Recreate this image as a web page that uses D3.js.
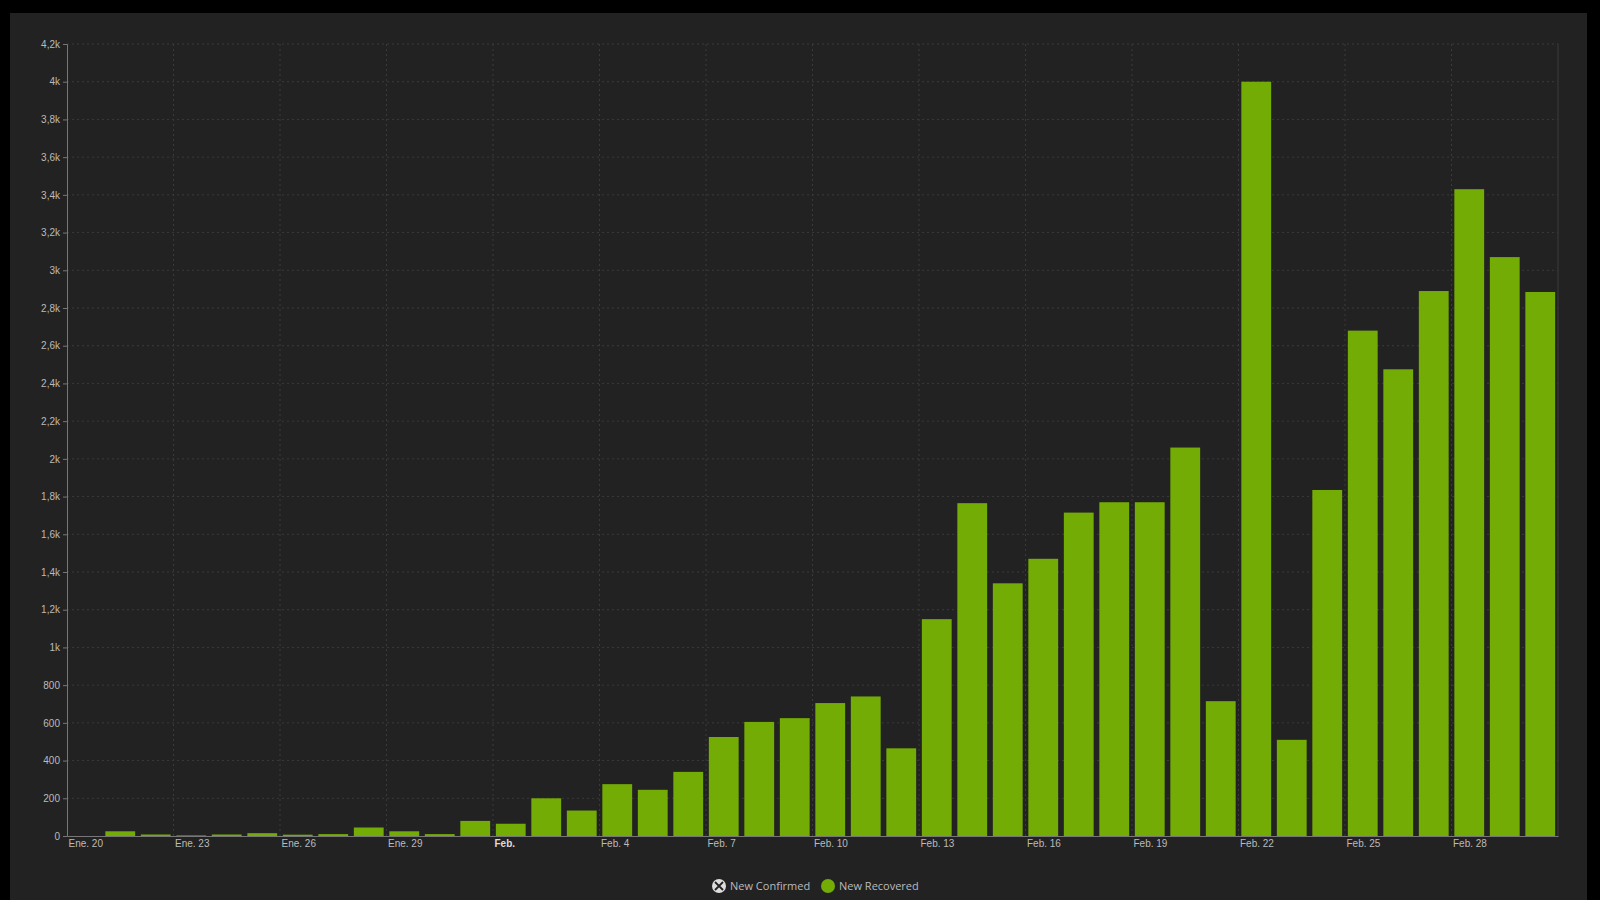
<!DOCTYPE html>
<html><head><meta charset="utf-8">
<script src="https://cdn.jsdelivr.net/npm/d3@7"></script>
<style>body{margin:0;background:#000;}svg{display:block;font-family:"Open Sans",sans-serif;}</style>
</head><body><svg id="c" width="1600" height="900"></svg>
<script>
const dates = ["2020-01-21","2020-01-22","2020-01-23","2020-01-24","2020-01-25","2020-01-26","2020-01-27","2020-01-28","2020-01-29","2020-01-30","2020-01-31","2020-02-01","2020-02-02","2020-02-03","2020-02-04","2020-02-05","2020-02-06","2020-02-07","2020-02-08","2020-02-09","2020-02-10","2020-02-11","2020-02-12","2020-02-13","2020-02-14","2020-02-15","2020-02-16","2020-02-17","2020-02-18","2020-02-19","2020-02-20","2020-02-21","2020-02-22","2020-02-23","2020-02-24","2020-02-25","2020-02-26","2020-02-27","2020-02-28","2020-02-29","2020-03-01"];
const newRecovered = [25,8,3,8,15,7,10,45,25,10,80,65,200,135,275,245,340,525,605,625,705,740,465,1150,1765,1340,1470,1715,1770,1770,2060,715,4000,510,1835,2680,2475,2890,3430,3070,2885];
const yTicks = [0,200,400,600,800,1000,1200,1400,1600,1800,2000,2200,2400,2600,2800,3000,3200,3400,3600,3800,4000,4200];
const yTickLabels = ["0","200","400","600","800","1k","1,2k","1,4k","1,6k","1,8k","2k","2,2k","2,4k","2,6k","2,8k","3k","3,2k","3,4k","3,6k","3,8k","4k","4,2k"];
const xTickDates = ["2020-01-20","2020-01-23","2020-01-26","2020-01-29","2020-02-01","2020-02-04","2020-02-07","2020-02-10","2020-02-13","2020-02-16","2020-02-19","2020-02-22","2020-02-25","2020-02-28"];
const xTickLabels = ["Ene. 20","Ene. 23","Ene. 26","Ene. 29","Feb.","Feb. 4","Feb. 7","Feb. 10","Feb. 13","Feb. 16","Feb. 19","Feb. 22","Feb. 25","Feb. 28"];
const legendItems = ["New Confirmed","New Recovered"];

const svg = d3.select("#c");
const P = d3.timeParse("%Y-%m-%d");
svg.append("rect").attr("x",10).attr("y",13).attr("width",1577).attr("height",887).attr("fill","#222222");
const L=67,R=1558,T=44,B=836;
const x = d3.scaleTime().domain([P("2020-01-20"),P("2020-03-02")]).range([L,R]);
const y = d3.scaleLinear().domain([0,4200]).range([B,T]);
const g = svg.append("g");
g.selectAll(".hg").data(yTicks.slice(1)).join("line").attr("x1",L).attr("x2",R)
 .attr("y1",d=>y(d)).attr("y2",d=>y(d)).attr("stroke","#3a3a3a").attr("stroke-dasharray","2,3");
g.selectAll(".vg").data(xTickDates.slice(1)).join("line").attr("y1",T).attr("y2",B)
 .attr("x1",d=>x(P(d))).attr("x2",d=>x(P(d))).attr("stroke","#3a3a3a").attr("stroke-dasharray","2,3");
g.append("line").attr("x1",R).attr("x2",R).attr("y1",T).attr("y2",B).attr("stroke","#3a3a3a");
const day = x(P("2020-01-22"))-x(P("2020-01-21"));
g.selectAll(".bar").data(dates.map((d,i)=>({d:P(d),v:newRecovered[i]}))).join("rect")
 .attr("x",d=>x(d.d)+day*0.08).attr("width",day*0.84)
 .attr("y",d=>y(d.v)).attr("height",d=>B-y(d.v)).attr("fill","#74ac06");
const ya = d3.axisLeft(y).tickValues(yTicks).tickFormat((d,i)=>yTickLabels[i]).tickSize(4);
const yg = svg.append("g").attr("transform",`translate(${L},0)`).call(ya);
const xa = d3.axisBottom(x).tickValues(xTickDates.map(P)).tickFormat((d,i)=>xTickLabels[i]).tickSize(0);
const xg = svg.append("g").attr("transform",`translate(0,${B})`).call(xa);
[yg,xg].forEach(a=>{a.select(".domain").attr("stroke","#777");a.selectAll("line").attr("stroke","#777");
 a.selectAll("text").attr("fill","#bbb").attr("font-size",10);});
xg.selectAll("text").attr("text-anchor","start").attr("dx",1).attr("dy",8);
xg.selectAll("text").filter((d,i)=>i===4).attr("font-weight","bold").attr("fill","#ddd");
const lg = svg.append("g").attr("transform","translate(712,886)");
const it = lg.selectAll("g").data(legendItems).join("g").attr("transform",(d,i)=>`translate(${i*109},0)`);
it.append("circle").attr("cx",7).attr("cy",0).attr("r",7).attr("fill",(d,i)=>i? "#74ac06":"#ddd");
it.filter((d,i)=>i===0).append("path").attr("d","M3,-4L11,4M11,-4L3,4").attr("stroke","#222").attr("stroke-width",1.8);
it.append("text").attr("x",18).attr("y",4).attr("fill","#bbb").attr("font-size",11).text(d=>d);
</script></body></html>
